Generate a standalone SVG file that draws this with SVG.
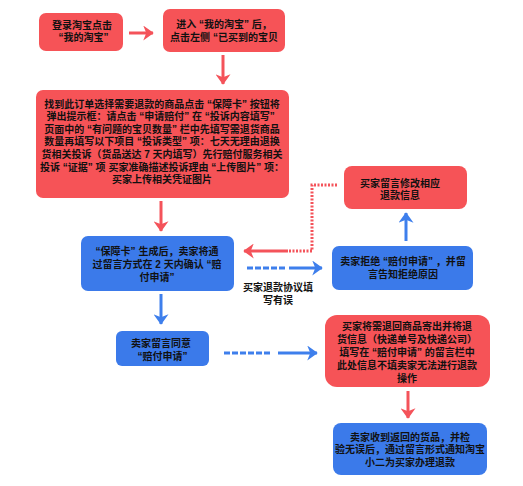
<svg xmlns="http://www.w3.org/2000/svg" width="523" height="486" viewBox="0 0 523 486">
<defs>
<marker id="ar" viewBox="0 0 7 10" refX="6.5" refY="5" markerWidth="3.5" markerHeight="5" orient="auto" markerUnits="strokeWidth">
<path d="M0,0 L7,5 L0,10 L2,5 z" fill="#f4535a"/>
</marker>
<marker id="ab" viewBox="0 0 7 10" refX="6.5" refY="5" markerWidth="3.5" markerHeight="5" orient="auto" markerUnits="strokeWidth">
<path d="M0,0 L7,5 L0,10 L2,5 z" fill="#3e7fec"/>
</marker>
<style>
.r{fill:#f65357}
.b{fill:#3b7aea}
text{font-family:"Liberation Sans","Noto Sans CJK SC","Noto Sans CJK JP",sans-serif;font-size:10px;font-weight:bold;fill:#111;text-anchor:middle}
.lr{stroke:#f4535a;stroke-width:3;fill:none}
.lb{stroke:#3e7fec;stroke-width:3;fill:none}
.dr{stroke-dasharray:2 1.5}
.db{stroke-dasharray:6 2}
</style>
</defs>
<rect width="523" height="486" fill="#fff"/>
<g id="connectors">
<path class="lr" d="M129,33 H153" marker-end="url(#ar)"/>
<path class="lr" d="M223,55 V84" marker-end="url(#ar)"/>
<path class="lr" d="M161,201 V231" marker-end="url(#ar)"/>
<path class="lb" d="M161,294 V324" marker-end="url(#ab)"/>
<path class="lb db" d="M224,353 H271"/>
<path class="lb" d="M278,353 H317" marker-end="url(#ab)"/>
<path class="lr" d="M408,391 V418" marker-end="url(#ar)"/>
<path class="lb" d="M406,241 V213" marker-end="url(#ab)"/>
<path class="lr dr" d="M337,185 H312 V251 H288"/>
<path class="lr" d="M288,251 H244" marker-end="url(#ar)"/>
<path class="lb db" d="M247,268 H285"/>
<path class="lb" d="M289,268 H322" marker-end="url(#ab)"/>
<text x="278" y="291">买家退款协议填<tspan x="278" dy="13">写有误</tspan></text>
</g>
<g id="n1">
<rect class="r" x="39" y="13" width="84" height="38" rx="7"/>
<text x="82" y="29">登录淘宝点击<tspan x="82" dy="12"> “我的淘宝” </tspan></text>
</g>
<g id="n2">
<rect class="r" x="163" y="9" width="122" height="43" rx="7"/>
<text x="224" y="28">进入 “我的淘宝” 后，<tspan x="224" dy="13">点击左侧 “已买到的宝贝</tspan></text>
</g>
<g id="n3">
<rect class="r" x="36" y="90" width="253" height="108" rx="7"/>
<text x="162" y="107.5">找到此订单选择需要退款的商品点击 “保障卡” 按钮将<tspan x="162" dy="12.6">弹出提示框：请点击 “申请赔付” 在 “投诉内容填写” </tspan><tspan x="162" dy="12.6">页面中的 “有问题的宝贝数量” 栏中先填写需退货商品</tspan><tspan x="162" dy="12.6">数量再填写以下项目 “投诉类型” 项：七天无理由退换</tspan><tspan x="162" dy="12.6">货相关投诉（货品送达 7 天内填写）先行赔付服务相关</tspan><tspan x="162" dy="12.6">投诉 “证据” 项 买家准确描述投诉理由 “上传图片” 项：</tspan><tspan x="162" dy="12.6">买家上传相关凭证图片</tspan></text>
</g>
<g id="n4">
<rect class="b" x="81" y="236" width="153" height="55" rx="7"/>
<text x="157" y="255"> “保障卡” 生成后，卖家将通<tspan x="157" dy="13">过留言方式在 2 天内确认 “赔</tspan><tspan x="157" dy="13">付申请” </tspan></text>
</g>
<g id="n5">
<rect class="b" x="116" y="331" width="93" height="35" rx="6"/>
<text x="161" y="346.5">卖家留言同意<tspan x="161" dy="13.5"> “赔付申请” </tspan></text>
</g>
<g id="n6">
<rect class="r" x="325" y="315" width="165" height="72" rx="12"/>
<text x="407" y="329.5">买家将需退回商品寄出并将退<tspan x="407" dy="13">货信息（快递单号及快递公司）</tspan><tspan x="407" dy="13">填写在 “赔付申请” 的留言栏中</tspan><tspan x="407" dy="13">此处信息不填卖家无法进行退款</tspan><tspan x="407" dy="13.5">操作</tspan></text>
</g>
<g id="n7">
<rect class="b" x="333" y="423" width="154" height="52" rx="8"/>
<text x="410" y="440.5">卖家收到返回的货品，并检<tspan x="410" dy="12.5">验无误后，通过留言形式通知淘宝</tspan><tspan x="410" dy="13">小二为买家办理退款</tspan></text>
</g>
<g id="n8">
<rect class="r" x="344" y="166" width="123" height="43" rx="8"/>
<text x="400" y="186.5">买家留言修改相应<tspan x="400" dy="12.5">退款信息</tspan></text>
</g>
<g id="n9">
<rect class="b" x="332" y="246" width="141" height="44" rx="7"/>
<text x="403" y="264.5">卖家拒绝 “赔付申请” ，并留<tspan x="403" dy="13">言告知拒绝原因</tspan></text>
</g>
</svg>
